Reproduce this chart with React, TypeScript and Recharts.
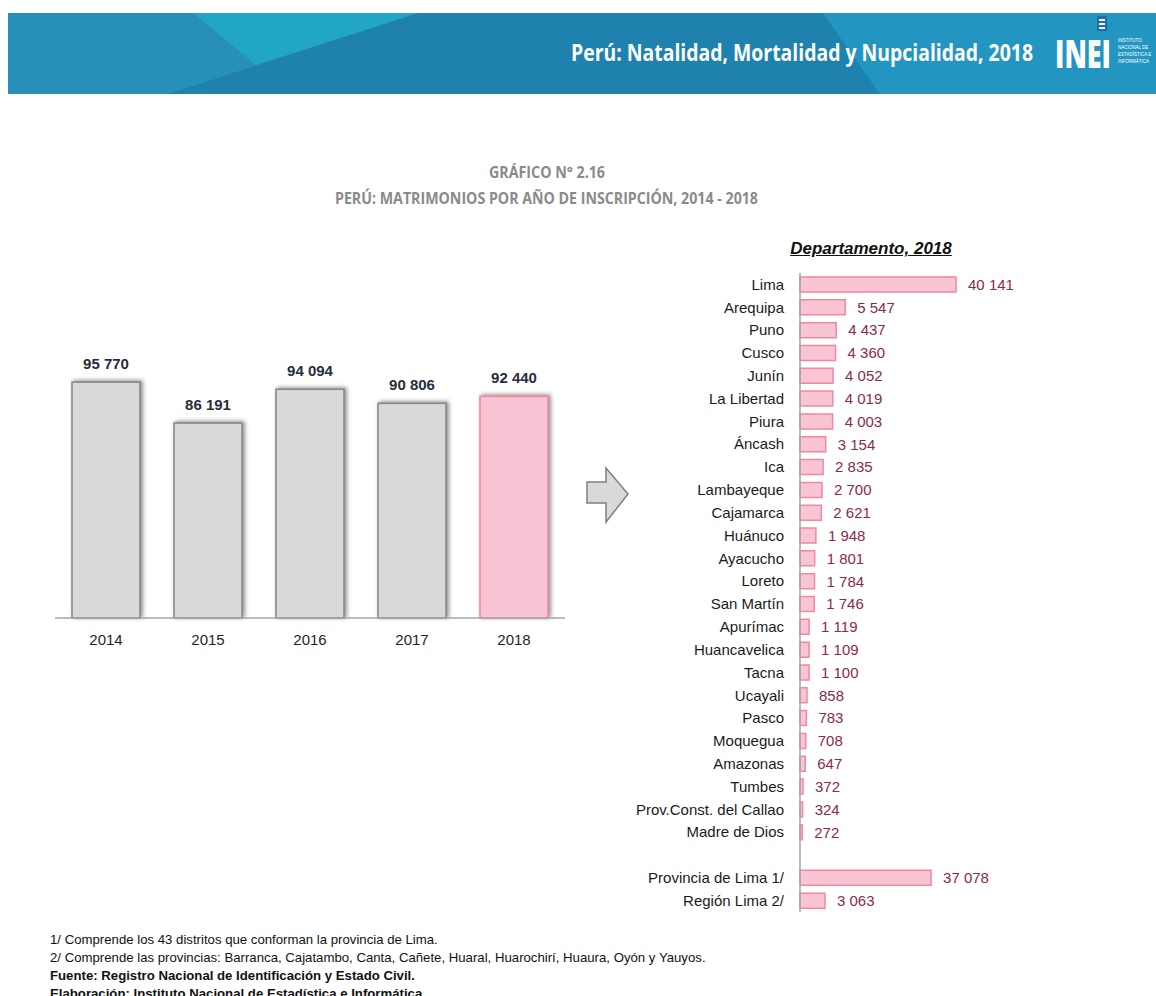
import React from 'react';
import { BarChart, Bar, XAxis, YAxis, LabelList, Cell } from 'recharts';

// ---------- DATA ----------
const years = ['2014', '2015', '2016', '2017', '2018'];
const matrimoniosPorAnio = [95770, 86191, 94094, 90806, 92440];

const departamentos = [
  'Lima', 'Arequipa', 'Puno', 'Cusco', 'Junín', 'La Libertad', 'Piura', 'Áncash', 'Ica',
  'Lambayeque', 'Cajamarca', 'Huánuco', 'Ayacucho', 'Loreto', 'San Martín', 'Apurímac',
  'Huancavelica', 'Tacna', 'Ucayali', 'Pasco', 'Moquegua', 'Amazonas', 'Tumbes',
  'Prov.Const. del Callao', 'Madre de Dios',
];
const matrimoniosDepartamento = [
  40141, 5547, 4437, 4360, 4052, 4019, 4003, 3154, 2835, 2700, 2621, 1948, 1801, 1784, 1746,
  1119, 1109, 1100, 858, 783, 708, 647, 372, 324, 272,
];
const limaNombres = ['Provincia de Lima 1/', 'Región Lima 2/'];
const limaValores = [37078, 3063];

const footnotes = [
  '1/ Comprende los 43 distritos que conforman la provincia de Lima.',
  '2/ Comprende las provincias: Barranca, Cajatambo, Canta, Cañete, Huaral, Huarochirí, Huaura, Oyón y Yauyos.',
];
const fuente = 'Fuente: Registro Nacional de Identificación y Estado Civil.';
const elaboracion = 'Elaboración: Instituto Nacional de Estadística e Informática.';
const logoLines = ['INSTITUTO', 'NACIONAL DE', 'ESTADÍSTICA E', 'INFORMÁTICA'];

// ---------- derived tables ----------
const yearData = years.map((y, i) => ({ year: y, value: matrimoniosPorAnio[i] }));
const deptData = [
  ...departamentos.map((n, i) => ({ name: n, value: matrimoniosDepartamento[i] as number | null })),
  { name: '', value: null as number | null },
  ...limaNombres.map((n, i) => ({ name: n, value: limaValores[i] as number | null })),
];

// the original chart truncates the very long bars (broken axis)
const AXIS_BREAK_AT = 20000;
const AXIS_BREAK_GAP = 21000;
const brokenAxisValue = (d: { value: number | null }) =>
  d.value == null ? null : d.value > AXIS_BREAK_AT ? d.value - AXIS_BREAK_GAP : d.value;

const fmt = (v: any) =>
  v == null || v === '' ? '' : String(v).replace(/\B(?=(\d{3})+(?!\d))/g, ' ');

const ARIAL = 'Liberation Sans, Arial, sans-serif';
const COND = '"Open Sans", "DejaVu Sans", sans-serif';

const ShadowBar = (props: any) => {
  const { x, y, width, height, fill, stroke } = props;
  if (height == null || width == null) return null;
  return (
    <rect
      x={x}
      y={y}
      width={width}
      height={height}
      fill={fill}
      stroke={stroke}
      strokeWidth={1.6}
      style={{ filter: 'drop-shadow(2px -1px 2px rgba(0,0,0,0.45))' }}
    />
  );
};

export default function App() {
  return (
    <div
      style={{
        position: 'absolute',
        left: 0,
        top: 0,
        width: 1156,
        height: 996,
        background: '#ffffff',
        overflow: 'hidden',
        fontFamily: ARIAL,
      }}
    >
      {/* Header banner */}
      <svg style={{ position: 'absolute', left: 8, top: 13 }} width={1148} height={81}>
        <rect x={0} y={0} width={1148} height={81} fill="#2690bb" />
        <polygon points="160,81 410,0 815,0 872,81" fill="#1f81ad" />
        <polygon points="815,0 1148,0 1148,81 872,81" fill="#2395c1" />
        <polygon points="185,0 410,0 248,52" fill="#22a6c8" />
        <text
          x={563}
          y={48}
          fill="#ffffff"
          fontFamily={COND}
          fontWeight={700}
          fontSize={23}
          textLength={462}
          lengthAdjust="spacingAndGlyphs"
        >
          Perú: Natalidad, Mortalidad y Nupcialidad, 2018
        </text>
        <rect x={1089} y={3} width={10} height={15} fill="#1a6fb0" />
        <rect x={1091} y={6} width={6} height={2} fill="#ffffff" />
        <rect x={1091} y={10} width={6} height={2} fill="#ffffff" />
        <rect x={1091} y={14} width={6} height={2} fill="#ffffff" />
        <text
          x={1047}
          y={55}
          fill="#ffffff"
          fontFamily={COND}
          fontWeight={800}
          fontSize={38}
          textLength={56}
          lengthAdjust="spacingAndGlyphs"
        >
          INEI
        </text>
        <text x={1110} y={29} fill="#ffffff" fontSize={4.5} fontFamily={ARIAL}>
          {logoLines.map((t, i) => (
            <tspan key={t} x={1110} dy={i === 0 ? 0 : 7}>
              {t}
            </tspan>
          ))}
        </text>
      </svg>

      {/* Titles */}
      <svg style={{ position: 'absolute', left: 0, top: 155 }} width={1156} height={60}>
        <text
          x={489}
          y={23}
          fill="#8a8a8a"
          fontFamily={COND}
          fontWeight={700}
          fontSize={16}
          textLength={116}
          lengthAdjust="spacingAndGlyphs"
        >
          GRÁFICO N° 2.16
        </text>
        <text
          x={335}
          y={49}
          fill="#8a8a8a"
          fontFamily={COND}
          fontWeight={700}
          fontSize={16}
          textLength={423}
          lengthAdjust="spacingAndGlyphs"
        >
          PERÚ: MATRIMONIOS POR AÑO DE INSCRIPCIÓN, 2014 - 2018
        </text>
      </svg>

      {/* Left chart: by year */}
      <div style={{ position: 'absolute', left: 0, top: 300 }}>
        <BarChart
          width={600}
          height={360}
          data={yearData}
          margin={{ top: 64, right: 35, left: 55, bottom: 12 }}
        >
          <XAxis
            dataKey="year"
            height={30}
            axisLine={{ stroke: '#a6a6a6', strokeWidth: 1.5 }}
            tickLine={false}
            tickMargin={10}
            tick={{ fontSize: 15, fill: '#1f1f1f', fontFamily: ARIAL }}
          />
          <YAxis hide domain={[40600, 100000]} />
          <Bar dataKey="value" barSize={68} isAnimationActive={false} shape={ShadowBar}>
            {yearData.map((d) => (
              <Cell
                key={d.year}
                fill={d.year === '2018' ? '#f9c4d3' : '#d9d9d9'}
                stroke={d.year === '2018' ? '#f2899a' : '#8a8a8a'}
              />
            ))}
            <LabelList
              dataKey="value"
              position="top"
              offset={13}
              formatter={fmt}
              style={{ fontSize: 15, fontWeight: 700, fill: '#262e3c', fontFamily: ARIAL }}
            />
          </Bar>
        </BarChart>
      </div>

      {/* Arrow */}
      <svg style={{ position: 'absolute', left: 580, top: 460 }} width={60} height={70}>
        <polygon
          points="7,22 26,22 26,8 48,34 26,62 26,43 7,43"
          fill="#d9d9d9"
          stroke="#7f7f7f"
          strokeWidth={1.5}
        />
      </svg>

      {/* Right chart title */}
      <div
        style={{
          position: 'absolute',
          left: 700,
          top: 239,
          width: 342,
          textAlign: 'center',
          fontSize: 17,
          fontWeight: 700,
          fontStyle: 'italic',
          textDecoration: 'underline',
          color: '#111111',
          fontFamily: ARIAL,
          lineHeight: '20px',
        }}
      >
        Departamento, 2018
      </div>

      {/* Right chart: by department */}
      <div style={{ position: 'absolute', left: 600, top: 260 }}>
        <BarChart
          width={556}
          height={656}
          data={deptData}
          layout="vertical"
          margin={{ top: 13, right: 56, left: 0, bottom: 4 }}
        >
          <XAxis type="number" hide domain={[0, 36800]} />
          <YAxis
            type="category"
            dataKey="name"
            width={200}
            interval={0}
            axisLine={{ stroke: '#a6a6a6', strokeWidth: 1.5 }}
            tickLine={false}
            tickMargin={10}
            tick={{ fontSize: 15, fill: '#1a1a1a', fontFamily: ARIAL }}
          />
          <Bar
            dataKey={brokenAxisValue}
            barSize={15}
            fill="#f9c4d3"
            stroke="#f2899a"
            strokeWidth={1.5}
            isAnimationActive={false}
          >
            <LabelList
              dataKey="value"
              position="right"
              offset={12}
              formatter={fmt}
              style={{ fontSize: 15, fill: '#8b2a4a', fontFamily: ARIAL }}
            />
          </Bar>
        </BarChart>
      </div>

      {/* Footnotes */}
      <div
        style={{
          position: 'absolute',
          left: 50,
          top: 931,
          fontSize: 13.2,
          lineHeight: '18px',
          color: '#111111',
          fontFamily: ARIAL,
          whiteSpace: 'nowrap',
        }}
      >
        {footnotes.map((f) => (
          <div key={f}>{f}</div>
        ))}
        <div style={{ fontWeight: 700 }}>{fuente}</div>
        <div style={{ fontWeight: 700 }}>{elaboracion}</div>
      </div>
    </div>
  );
}
